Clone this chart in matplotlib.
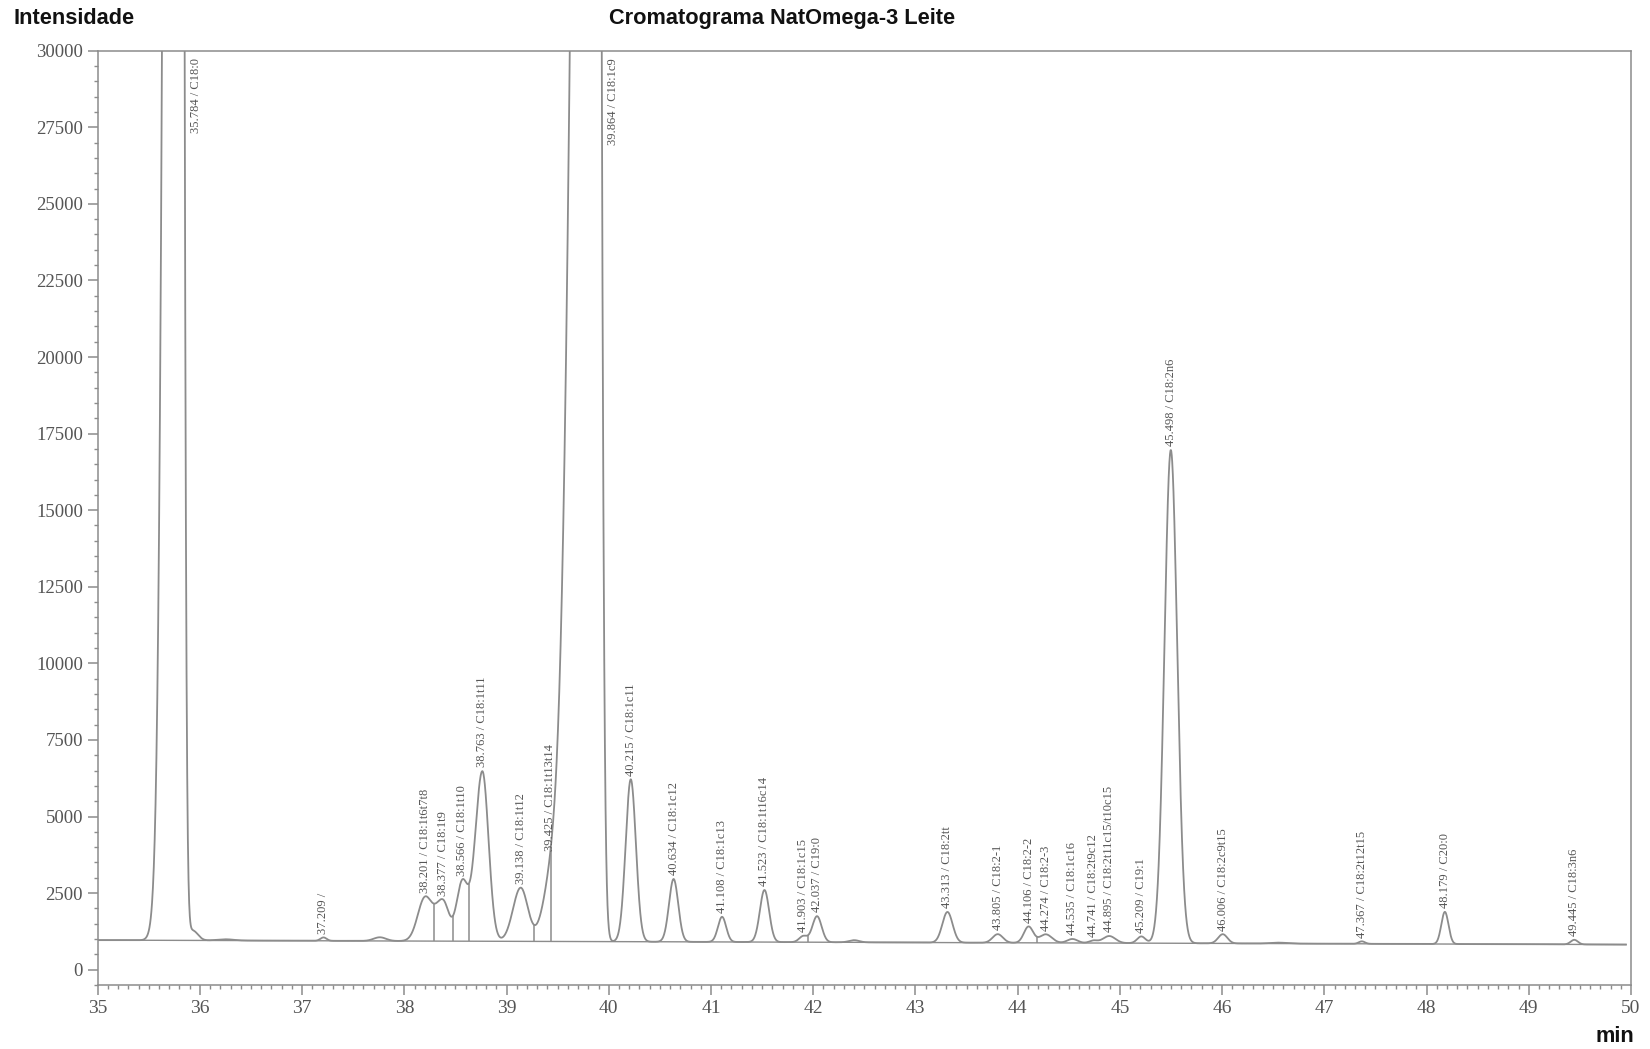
import numpy as np
import matplotlib
matplotlib.use("Agg")
import matplotlib.pyplot as plt
from matplotlib.ticker import MultipleLocator

# ---------------- data ----------------
title = "Cromatograma NatOmega-3 Leite"
y_label = "Intensidade"
x_label = "min"

# labelled peaks: retention time, height above baseline, left/right peak widths (sigma, min)
peak_rt = [35.784, 37.209, 38.201, 38.377, 38.566, 38.763, 39.138, 39.425,
           39.864, 40.215, 40.634, 41.108, 41.523, 41.903, 42.037, 43.313,
           43.805, 44.106, 44.274, 44.535, 44.741, 44.895, 45.209, 45.498,
           46.006, 47.367, 48.179, 49.445]
peak_height = [200000, 110, 1400, 1300, 1900, 5550, 1750, 1300,
               111000, 5300, 2050, 820, 1700, 200, 850, 1000,
               280, 530, 280, 130, 80, 230, 220, 16100,
               300, 80, 1050, 150]
peak_sigma_left = [0.079, 0.03, 0.07, 0.07, 0.055, 0.07, 0.075, 0.08,
                   0.15, 0.05, 0.045, 0.04, 0.045, 0.04, 0.045, 0.05,
                   0.05, 0.045, 0.06, 0.05, 0.04, 0.06, 0.04, 0.062,
                   0.045, 0.03, 0.035, 0.035]
peak_sigma_right = [0.034, 0.03, 0.07, 0.06, 0.055, 0.06, 0.07, 0.08,
                    0.041, 0.05, 0.045, 0.04, 0.045, 0.04, 0.045, 0.05,
                    0.05, 0.045, 0.06, 0.05, 0.04, 0.06, 0.04, 0.062,
                    0.045, 0.03, 0.035, 0.035]
peak_name = ["C18:0", "", "C18:1t6t7t8", "C18:1t9", "C18:1t10", "C18:1t11",
             "C18:1t12", "C18:1t13t14", "C18:1c9", "C18:1c11", "C18:1c12",
             "C18:1c13", "C18:1t16c14", "C18:1c15", "C19:0", "C18:2tt",
             "C18:2-1", "C18:2-2", "C18:2-3", "C18:1c16", "C18:2t9c12",
             "C18:2t11c15/t10c15", "C19:1", "C18:2n6", "C18:2c9t15",
             "C18:2t12t15", "C20:0", "C18:3n6"]

# small unlabelled bumps of the trace
bump_rt = [35.93, 36.25, 37.76, 42.40, 46.55]
bump_height = [320, 40, 120, 70, 30]
bump_sigma = [0.05, 0.08, 0.06, 0.05, 0.08]

# baseline drift (intensity at start and end of the run)
base_rt = [35.0, 50.0]
base_level = [965, 820]

# integration drop lines (valley positions, min)
drop_rt = [38.29, 38.48, 38.63, 39.27, 39.43, 41.95, 44.19]

x_ticks = list(range(35, 51))
y_ticks = list(range(0, 30001, 2500))

# ---------------- build trace ----------------
t = np.linspace(35.0, 49.95, 7000)
baseline = np.interp(t, base_rt, base_level)
signal = baseline.copy()
for rt, h, sl, sr in zip(peak_rt, peak_height, peak_sigma_left, peak_sigma_right):
    s = np.where(t < rt, sl, sr)
    signal += h * np.exp(-0.5 * ((t - rt) / s) ** 2)
for rt, h, s in zip(bump_rt, bump_height, bump_sigma):
    signal += h * np.exp(-0.5 * ((t - rt) / s) ** 2)

# ---------------- figure ----------------
line_col = "#8c8c8c"
text_col = "#555555"
serif = ["Liberation Serif", "DejaVu Serif"]
sans = ["Liberation Sans", "DejaVu Sans"]

fig = plt.figure(figsize=(16.5, 10.49), dpi=100)
ax = fig.add_axes([0.0592, 0.0610, 0.9293, 0.8907])
ax.set_xlim(35, 50)
ax.set_ylim(-500, 30000)

ax.plot(t, signal, color=line_col, lw=1.3)
ax.plot(t, baseline, color=line_col, lw=1.0)
for d in drop_rt:
    ax.vlines(d, np.interp(d, t, baseline), np.interp(d, t, signal), color=line_col, lw=1.1)

ymax = 30000
for rt, name in zip(peak_rt, peak_name):
    txt = f"{rt:.3f} / {name}" if name else f"{rt:.3f} /"
    level = np.interp(rt, t, signal)
    if level > ymax:
        ax.text(rt + 0.18, ymax - 250, txt, rotation=90, ha="center", va="top",
                fontsize=9, color=text_col, family=serif)
    else:
        ax.text(rt, level + 120, txt, rotation=90, ha="center", va="bottom",
                fontsize=9, color=text_col, family=serif)

for sp in ax.spines.values():
    sp.set_color(line_col)
    sp.set_linewidth(1.1)

ax.set_xticks(x_ticks)
ax.set_yticks(y_ticks)
ax.xaxis.set_minor_locator(MultipleLocator(0.1))
ax.yaxis.set_minor_locator(MultipleLocator(500))
ax.tick_params(axis="both", which="major", direction="out", length=7, width=1.1,
               color=line_col, labelcolor=text_col)
ax.tick_params(axis="both", which="minor", direction="out", length=3, width=1.0,
               color=line_col)
for lab in ax.get_xticklabels():
    lab.set_fontfamily(serif)
    lab.set_fontsize(14)
for lab in ax.get_yticklabels():
    lab.set_fontfamily(serif)
    lab.set_fontsize(13.5)

fig.text(0.0083, 0.982, y_label, fontsize=15.7, fontweight="bold",
         family=sans, ha="left", va="center", color="#111111")
fig.text(0.4738, 0.982, title, fontsize=15.7, fontweight="bold",
         family=sans, ha="center", va="center", color="#111111")
fig.text(0.979, 0.0115, x_label, fontsize=15.7, fontweight="bold",
         family=sans, ha="center", va="center", color="#111111")

fig.savefig("out.png", dpi=100)
